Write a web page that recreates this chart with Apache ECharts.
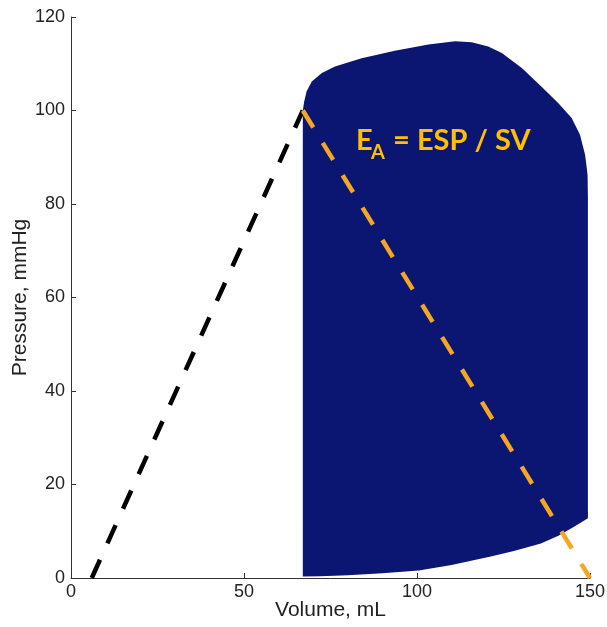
<!DOCTYPE html>
<html>
<head>
<meta charset="utf-8">
<script src="https://cdn.jsdelivr.net/npm/echarts@6/dist/echarts.min.js"></script>
<style>html,body{margin:0;padding:0;background:#fff}#c{width:607px;height:627px}</style>
</head>
<body>
<div id="c"></div>
<script>
// PV loop outline (volume mL, pressure mmHg), traced clockwise from bottom-left
var loopVolume = [67.0, 67.0, 67.4, 68.1, 69.6, 72.5, 76.3, 84.0, 93.6, 103.3, 111.0, 115.8, 120.6, 124.5, 130.3, 136.0, 140.8, 144.7, 147.1, 148.6, 149.3, 149.4, 149.4, 145.5, 141.0, 135.8, 128.0, 121.3, 110.0, 100.5, 90.0, 80.0, 72.0, 67.0];
var loopPressure = [0.3, 100.0, 101.9, 104.1, 106.2, 108.0, 109.4, 111.2, 112.8, 114.1, 114.8, 114.6, 113.7, 112.3, 109.1, 105.1, 101.6, 98.4, 94.8, 90.5, 86.2, 80.9, 12.8, 11.0, 9.1, 7.4, 5.8, 4.6, 2.8, 1.6, 1.0, 0.6, 0.4, 0.3];
// ESPVR (black dashed) and arterial elastance (orange dashed) lines
var espvrVolume = [6, 67];
var espvrPressure = [0, 100];
var eaVolume = [67, 150];
var eaPressure = [100, 0];

function pairs(xs, ys) { return xs.map(function (x, i) { return [x, ys[i]]; }); }

var chart = echarts.init(document.getElementById('c'));
var axisCommon = {
  axisLine: { show: true, lineStyle: { color: '#333', width: 1 } },
  axisTick: { show: true, inside: true, length: 5, lineStyle: { color: '#333' } },
  splitLine: { show: false },
  axisLabel: { color: '#222', fontSize: 18, fontFamily: 'Liberation Sans, Arial, sans-serif' },
  nameTextStyle: { color: '#222', fontSize: 21, fontFamily: 'Liberation Sans, Arial, sans-serif' },
  nameMoveOverlap: false
};
chart.setOption({
  animation: false,
  grid: { left: 71, right: 17, top: 17, bottom: 49, containLabel: false, outerBoundsMode: 'none' },
  xAxis: Object.assign({}, axisCommon, {
    type: 'value', min: 0, max: 150, interval: 50,
    name: 'Volume, mL', nameLocation: 'middle', nameGap: 22,
    axisLabel: Object.assign({}, axisCommon.axisLabel, { margin: 5 })
  }),
  yAxis: Object.assign({}, axisCommon, {
    type: 'value', min: 0, max: 120, interval: 20,
    name: 'Pressure, mmHg', nameLocation: 'middle', nameGap: 40,
    axisLabel: Object.assign({}, axisCommon.axisLabel, { margin: 6 })
  }),
  series: [
    {
      type: 'custom',
      z: 1,
      data: pairs(loopVolume, loopPressure),
      renderItem: function (params, api) {
        if (params.dataIndex !== 0) return null;
        var pts = loopVolume.map(function (v, i) { return api.coord([v, loopPressure[i]]); });
        return { type: 'polygon', shape: { points: pts }, style: { fill: '#0b1572', stroke: 'none' } };
      },
      silent: true
    },
    {
      type: 'line', z: 3, symbol: 'none', silent: true,
      data: pairs(espvrVolume, espvrPressure),
      lineStyle: { color: '#000', width: 4.5, type: [20, 18], cap: 'butt' }
    },
    {
      type: 'line', z: 3, symbol: 'none', silent: true,
      data: pairs(eaVolume, eaPressure),
      lineStyle: { color: '#f5a623', width: 4.5, type: [20, 18], cap: 'butt' }
    }
  ],
  graphic: [
    { type: 'text', left: 356, top: 126, z: 10, style: { text: 'E', fill: '#ffc000', font: 'bold 29px Lato, sans-serif' } },
    { type: 'text', left: 371, top: 143, z: 10, style: { text: 'A', fill: '#ffc000', font: 'bold 20px Lato, sans-serif' } },
    { type: 'text', left: 386, top: 126, z: 10, style: { text: ' = ESP / SV', fill: '#ffc000', font: 'bold 29px Lato, sans-serif' } }
  ]
});
</script>
</body>
</html>
